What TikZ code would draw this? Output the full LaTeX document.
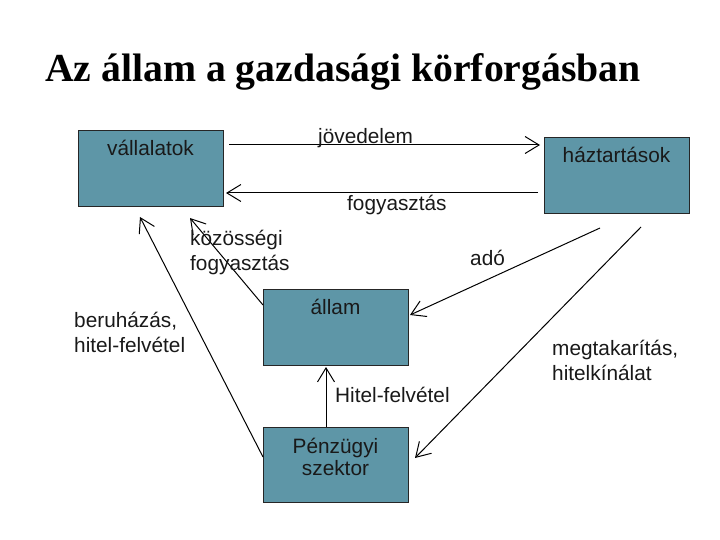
\documentclass[tikz,border=0pt]{standalone}
\usepackage{fontspec}
\setmainfont{Liberation Serif}
\newfontfamily\arialf{Liberation Sans}
\usetikzlibrary{arrows.meta}
\definecolor{boxteal}{RGB}{94,150,167}
\tikzset{
  box/.style={draw=black!85, line width=1pt, fill=boxteal, minimum width=145pt, inner sep=0pt, outer sep=0pt, font=\arialf\fontsize{20.8}{24.5}\selectfont, text=black!90},
  lbl/.style={inner sep=0pt, font=\arialf\fontsize{20.8}{24.5}\selectfont, text=black!90, align=left, anchor=base west},
  flow/.style={line width=1pt, -{Straight Barb[length=14pt,width=17pt,line width=1pt]}}
}
\begin{document}
\begin{tikzpicture}[x=1pt,y=-1pt]
\useasboundingbox (0,0) rectangle (720,540);
\node[anchor=base west, inner sep=0pt, font=\bfseries\fontsize{39.7}{44}\selectfont] (title) at (45,82) {Az állam a gazdasági körforgásban};

\node[box, text height=25pt, text depth=51pt, anchor=base] (vall) at (150.5,156) {vállalatok};
\node[box, text height=25pt, text depth=51pt, anchor=base] (haz) at (616.5,163) {háztartások};
\node[box, text height=25pt, text depth=51pt, anchor=base] (allam) at (335.5,314) {állam};
\node[box, font=\arialf\fontsize{20.8}{22}\selectfont, text height=48pt, text depth=27pt, anchor=base, align=center] (penz) at (335.5,475) {Pénzügyi\\szektor};

\coordinate (jv1) at (229,145);
\coordinate (jv2) at (540,145);
\coordinate (fg1) at (538,193);
\coordinate (fg2) at (226,193);
\coordinate (kz1) at (263,305);
\coordinate (kz2) at (190,218);
\coordinate (bh1) at (263,457);
\coordinate (bh2) at (140,217);
\coordinate (ad1) at (600,228);
\coordinate (ad2) at (410,315);
\coordinate (mg1) at (641,227);
\coordinate (mg2) at (415,458);
\coordinate (hf1) at (326,427);
\coordinate (hf2) at (326,367);

\draw[flow] (jv1) -- (jv2);
\draw[flow] (fg1) -- (fg2);
\draw[flow] (kz1) -- (kz2);
\draw[flow] (bh1) -- (bh2);
\draw[flow] (ad1) -- (ad2);
\draw[flow] (mg1) -- (mg2);
\draw[flow] (hf1) -- (hf2);

\node[lbl] (ljov) at (318,144) {jövedelem};
\node[lbl] (lfog) at (347,211) {fogyasztás};
\node[lbl] (lkoz) at (190,270) {közösségi\\fogyasztás};
\node[lbl] (lado) at (470,265) {adó};
\node[lbl] (lmeg) at (552,380) {megtakarítás,\\hitelkínálat};
\node[lbl] (lber) at (74,352) {beruházás,\\hitel-felvétel};
\node[lbl] (lhit) at (335,402) {Hitel-felvétel};
\end{tikzpicture}
\end{document}
